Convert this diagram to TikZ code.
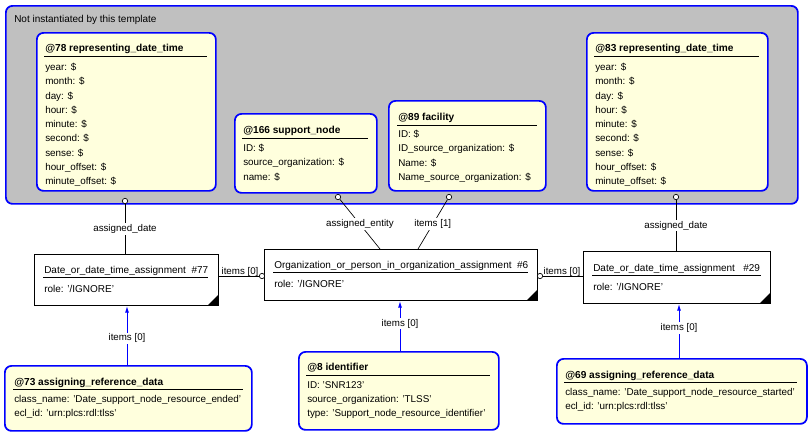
\documentclass[tikz,border=0pt]{standalone}
\usepackage{fontspec}
\setmainfont{Liberation Sans}
\usetikzlibrary{arrows.meta}
\definecolor{ebl}{RGB}{0,0,255}
\definecolor{eyl}{RGB}{255,255,221}
\definecolor{egr}{RGB}{192,192,192}
\tikzset{
 ent/.style={draw=ebl,line width=1.3pt,rounded corners=5pt,fill=eyl,inner sep=0},
 inst/.style={draw=black,line width=0.6pt,fill=white,inner sep=0},
 ttl/.style={anchor=base west,inner sep=0,font=\fontsize{7.6}{9}\selectfont\bfseries},
 itl/.style={anchor=base west,inner sep=0,font=\fontsize{7.5}{9}\selectfont},
 body/.style={anchor=north west,inner sep=0,align=left,font=\fontsize{7.4}{10.7}\selectfont},
 lbl/.style={fill=white,inner sep=1pt,font=\fontsize{7.3}{9}\selectfont},
 lbln/.style={inner sep=1pt,font=\fontsize{7.3}{9}\selectfont},
 rel/.style={draw=black,line width=0.5pt},
 ref/.style={draw=ebl,line width=0.7pt,-{Latex[length=5pt,width=3pt]}},
 circ/.style={circle,draw=black,fill=white,inner sep=0,minimum size=4pt,line width=0.5pt},
}
\newcommand\mybx[6]{\node[#1,minimum width=#5*0.75pt,minimum height=#6*0.75pt,anchor=north west] (#2) at (#3,#4) {};}
\newcommand\myul[3]{\draw[line width=0.5pt] (#1,#3) -- (#2,#3);}
\newcommand\mytri[2]{\fill (#1,#2) -- (#1-10,#2) -- (#1,#2-10) -- cycle;}
\begin{document}
\begin{tikzpicture}[x=0.75pt,y=-0.75pt]
\useasboundingbox (0,0) rectangle (812,437);
% grey frame
\mybx{ent,fill=egr}{grey}{5}{5}{792}{198}
\node[itl] (grl) at (14,22) {Not instantiated by this template};
% @78
\mybx{ent}{e78}{36}{32}{179}{158}
\node[ttl] (t78) at (45,51) {@78 representing\_date\_time};
\myul{44}{207}{56}
\node[body] (b78) at (45,63) {year: \$\\month: \$\\day: \$\\hour: \$\\minute: \$\\second: \$\\sense: \$\\hour\_offset: \$\\minute\_offset: \$};
% @166
\mybx{ent}{e166}{234}{113}{142}{79}
\node[ttl] (t166) at (243,133) {@166 support\_node};
\myul{242}{368}{138}
\node[body] (b166) at (243,144) {ID: \$\\source\_organization: \$\\name: \$};
% @89
\mybx{ent}{e89}{388}{100}{157}{90}
\node[ttl] (t89) at (398,120) {@89 facility};
\myul{397}{537}{125}
\node[body] (b89) at (398,130) {ID: \$\\ID\_source\_organization: \$\\Name: \$\\Name\_source\_organization: \$};
% @83
\mybx{ent}{e83}{586}{32}{181}{158}
\node[ttl] (t83) at (595,51) {@83 representing\_date\_time};
\myul{594}{759}{56}
\node[body] (b83) at (595,63) {year: \$\\month: \$\\day: \$\\hour: \$\\minute: \$\\second: \$\\sense: \$\\hour\_offset: \$\\minute\_offset: \$};
% instances
\mybx{inst}{i77}{34}{254}{184}{51}
\node[itl] (t77) at (44,273) {Date\_or\_date\_time\_assignment \ \#77};
\myul{43}{208}{277}
\node[itl] (r77) at (44,292) {role: '/IGNORE'};
\mytri{218}{305}
\mybx{inst}{i6}{264}{249}{273}{51}
\node[itl] (t6) at (274,268) {Organization\_or\_person\_in\_organization\_assignment \ \#6};
\myul{273}{528}{272}
\node[itl] (r6) at (274,287) {role: '/IGNORE'};
\mytri{537}{300}
\mybx{inst}{i29}{583}{251}{187}{52}
\node[itl] (t29) at (593,271) {Date\_or\_date\_time\_assignment \ \ \#29};
\myul{592}{761}{275}
\node[itl] (r29) at (593,290) {role: '/IGNORE'};
\mytri{770}{303}
% bottom entities
\mybx{ent}{e73}{4}{365}{247}{65}
\node[ttl] (t73) at (14,385) {@73 assigning\_reference\_data};
\myul{13}{243}{389}
\node[body] (b73) at (14,395) {class\_name: 'Date\_support\_node\_resource\_ended'\\ecl\_id: 'urn:plcs:rdl:tlss'};
\mybx{ent}{e8}{298}{351}{200}{78}
\node[ttl] (t8) at (307,370) {@8 identifier};
\myul{306}{490}{375}
\node[body] (b8) at (307,381) {ID: 'SNR123'\\source\_organization: 'TLSS'\\type: 'Support\_node\_resource\_identifier'};
\mybx{ent}{e69}{556}{358}{250}{65}
\node[ttl] (t69) at (565,378) {@69 assigning\_reference\_data};
\myul{564}{797}{382}
\node[body] (b69) at (565,388) {class\_name: 'Date\_support\_node\_resource\_started'\\ecl\_id: 'urn:plcs:rdl:tlss'};
% relations
\node[circ] (c78) at (125,201) {};
\node[circ] (c166) at (338,197) {};
\node[circ] (c89) at (449,197) {};
\node[circ] (c83) at (676,197) {};
\coordinate (a77) at (125,254);
\coordinate (a6l) at (380,249);
\coordinate (a6r) at (418,249);
\coordinate (a29) at (676,251);
\draw[rel] (c78) -- node[lbl] (l1) {assigned\_date} (a77);
\draw[rel] (c166) -- node[lbl] (l2) {assigned\_entity} (a6l);
\draw[rel] (c89) -- node[lbl] (l3) {items [1]} (a6r);
\draw[rel] (c83) -- node[lbl] (l4) {assigned\_date} (a29);
\node[circ] (c6a) at (262,276) {};
\node[circ] (c6b) at (540,276) {};
\coordinate (p77) at (218,276);
\coordinate (p29) at (583,276);
\draw[rel] (p77) -- (c6a);
\draw[rel] (c6b) -- (p29);
\node[lbln,anchor=base] (l5) at (240,274) {items [0]};
\node[lbln,anchor=base] (l6) at (562,274) {items [0]};
\coordinate (q77) at (127,306);
\coordinate (q6) at (400,301);
\coordinate (q29) at (679,304);
\coordinate (s73) at (127,365);
\coordinate (s8) at (400,351);
\coordinate (s69) at (679,358);
\draw[ref] (s73) -- node[lbl,pos=0.45] (l7) {items [0]} (q77);
\draw[ref] (s8) -- node[lbl,pos=0.55] (l8) {items [0]} (q6);
\draw[ref] (s69) -- node[lbl,pos=0.55] (l9) {items [0]} (q29);
\end{tikzpicture}
\end{document}
